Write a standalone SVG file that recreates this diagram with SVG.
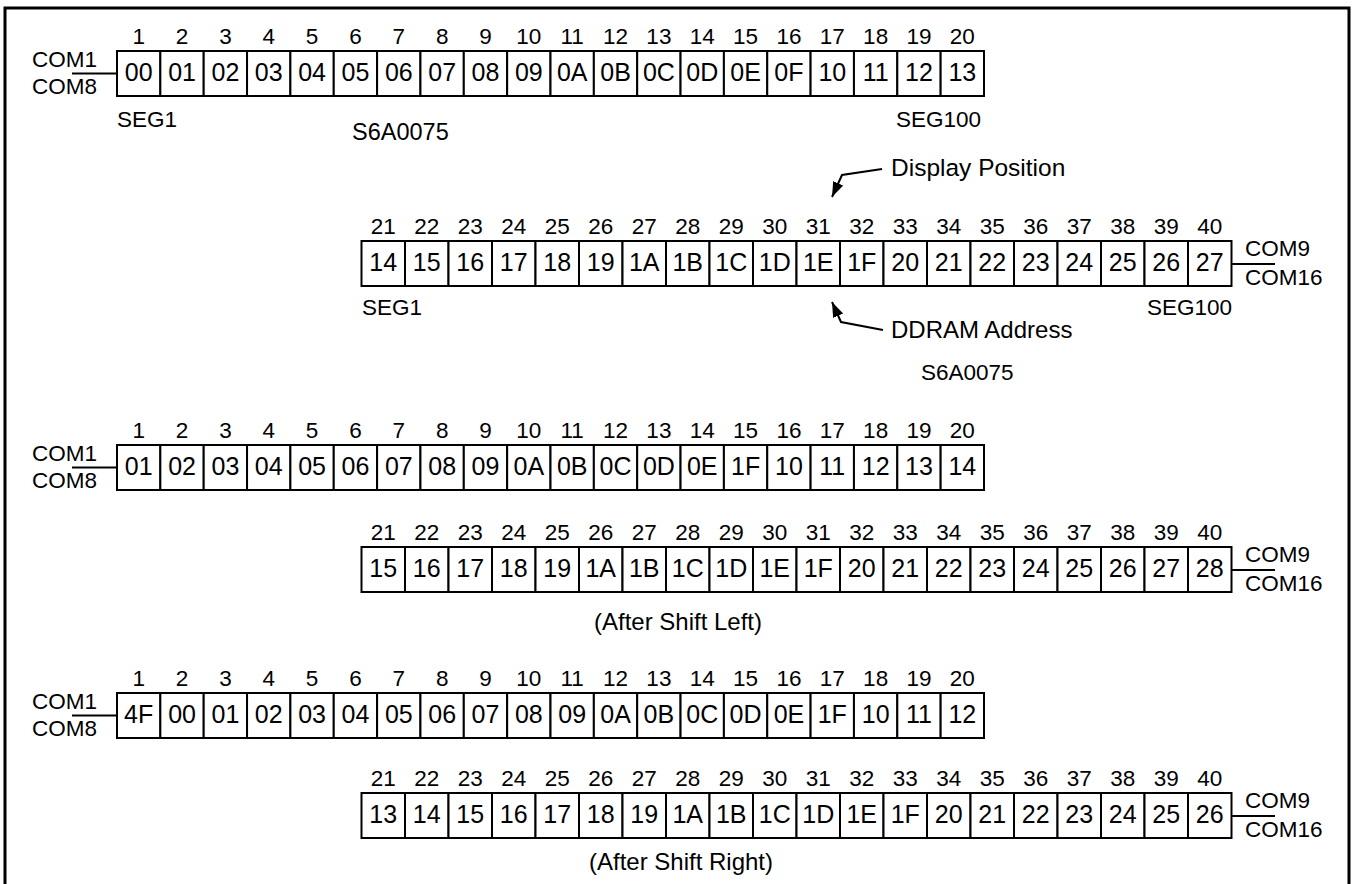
<svg xmlns="http://www.w3.org/2000/svg" width="1354" height="884" viewBox="0 0 1354 884">
<style>
text{font-family:"Liberation Sans",Arial,Helvetica,sans-serif;fill:#000}
.c{fill:#fff;stroke:#000;stroke-width:2}
.n{font-size:22.5px;text-anchor:middle}
.v{font-size:25px;text-anchor:middle}
.l{font-size:22.5px}
.b{font-size:24px}
.ln{stroke:#000;stroke-width:2;fill:none}
</style>
<defs>
<marker id="ah" markerUnits="userSpaceOnUse" markerWidth="16" markerHeight="12" refX="15" refY="5.5" orient="auto"><path d="M0,0 L15,5.5 L0,11 z" fill="#000"/></marker>
</defs>
<rect width="1354" height="884" fill="#fff"/>
<path d="M5,884 V8 H1349 V884" fill="none" stroke="#000" stroke-width="3"/>

<g id="row1">
<g id="r1c1" transform="translate(117,51)"><rect class="c" width="43.35" height="45"/><text class="n" x="21.7" y="-7">1</text><text class="v" x="21.7" y="30">00</text></g>
<g id="r1c2" transform="translate(160.35,51)"><rect class="c" width="43.35" height="45"/><text class="n" x="21.7" y="-7">2</text><text class="v" x="21.7" y="30">01</text></g>
<g id="r1c3" transform="translate(203.7,51)"><rect class="c" width="43.35" height="45"/><text class="n" x="21.7" y="-7">3</text><text class="v" x="21.7" y="30">02</text></g>
<g id="r1c4" transform="translate(247.05,51)"><rect class="c" width="43.35" height="45"/><text class="n" x="21.7" y="-7">4</text><text class="v" x="21.7" y="30">03</text></g>
<g id="r1c5" transform="translate(290.4,51)"><rect class="c" width="43.35" height="45"/><text class="n" x="21.7" y="-7">5</text><text class="v" x="21.7" y="30">04</text></g>
<g id="r1c6" transform="translate(333.75,51)"><rect class="c" width="43.35" height="45"/><text class="n" x="21.7" y="-7">6</text><text class="v" x="21.7" y="30">05</text></g>
<g id="r1c7" transform="translate(377.1,51)"><rect class="c" width="43.35" height="45"/><text class="n" x="21.7" y="-7">7</text><text class="v" x="21.7" y="30">06</text></g>
<g id="r1c8" transform="translate(420.45,51)"><rect class="c" width="43.35" height="45"/><text class="n" x="21.7" y="-7">8</text><text class="v" x="21.7" y="30">07</text></g>
<g id="r1c9" transform="translate(463.8,51)"><rect class="c" width="43.35" height="45"/><text class="n" x="21.7" y="-7">9</text><text class="v" x="21.7" y="30">08</text></g>
<g id="r1c10" transform="translate(507.15,51)"><rect class="c" width="43.35" height="45"/><text class="n" x="21.7" y="-7">10</text><text class="v" x="21.7" y="30">09</text></g>
<g id="r1c11" transform="translate(550.5,51)"><rect class="c" width="43.35" height="45"/><text class="n" x="21.7" y="-7">11</text><text class="v" x="21.7" y="30">0A</text></g>
<g id="r1c12" transform="translate(593.85,51)"><rect class="c" width="43.35" height="45"/><text class="n" x="21.7" y="-7">12</text><text class="v" x="21.7" y="30">0B</text></g>
<g id="r1c13" transform="translate(637.2,51)"><rect class="c" width="43.35" height="45"/><text class="n" x="21.7" y="-7">13</text><text class="v" x="21.7" y="30">0C</text></g>
<g id="r1c14" transform="translate(680.55,51)"><rect class="c" width="43.35" height="45"/><text class="n" x="21.7" y="-7">14</text><text class="v" x="21.7" y="30">0D</text></g>
<g id="r1c15" transform="translate(723.9,51)"><rect class="c" width="43.35" height="45"/><text class="n" x="21.7" y="-7">15</text><text class="v" x="21.7" y="30">0E</text></g>
<g id="r1c16" transform="translate(767.25,51)"><rect class="c" width="43.35" height="45"/><text class="n" x="21.7" y="-7">16</text><text class="v" x="21.7" y="30">0F</text></g>
<g id="r1c17" transform="translate(810.6,51)"><rect class="c" width="43.35" height="45"/><text class="n" x="21.7" y="-7">17</text><text class="v" x="21.7" y="30">10</text></g>
<g id="r1c18" transform="translate(853.95,51)"><rect class="c" width="43.35" height="45"/><text class="n" x="21.7" y="-7">18</text><text class="v" x="21.7" y="30">11</text></g>
<g id="r1c19" transform="translate(897.3,51)"><rect class="c" width="43.35" height="45"/><text class="n" x="21.7" y="-7">19</text><text class="v" x="21.7" y="30">12</text></g>
<g id="r1c20" transform="translate(940.65,51)"><rect class="c" width="43.35" height="45"/><text class="n" x="21.7" y="-7">20</text><text class="v" x="21.7" y="30">13</text></g>
</g>

<g id="row2">
<g id="r2c1" transform="translate(361.5,241)"><rect class="c" width="43.5" height="45"/><text class="n" x="21.75" y="-7">21</text><text class="v" x="21.75" y="30">14</text></g>
<g id="r2c2" transform="translate(405,241)"><rect class="c" width="43.5" height="45"/><text class="n" x="21.75" y="-7">22</text><text class="v" x="21.75" y="30">15</text></g>
<g id="r2c3" transform="translate(448.5,241)"><rect class="c" width="43.5" height="45"/><text class="n" x="21.75" y="-7">23</text><text class="v" x="21.75" y="30">16</text></g>
<g id="r2c4" transform="translate(492,241)"><rect class="c" width="43.5" height="45"/><text class="n" x="21.75" y="-7">24</text><text class="v" x="21.75" y="30">17</text></g>
<g id="r2c5" transform="translate(535.5,241)"><rect class="c" width="43.5" height="45"/><text class="n" x="21.75" y="-7">25</text><text class="v" x="21.75" y="30">18</text></g>
<g id="r2c6" transform="translate(579,241)"><rect class="c" width="43.5" height="45"/><text class="n" x="21.75" y="-7">26</text><text class="v" x="21.75" y="30">19</text></g>
<g id="r2c7" transform="translate(622.5,241)"><rect class="c" width="43.5" height="45"/><text class="n" x="21.75" y="-7">27</text><text class="v" x="21.75" y="30">1A</text></g>
<g id="r2c8" transform="translate(666,241)"><rect class="c" width="43.5" height="45"/><text class="n" x="21.75" y="-7">28</text><text class="v" x="21.75" y="30">1B</text></g>
<g id="r2c9" transform="translate(709.5,241)"><rect class="c" width="43.5" height="45"/><text class="n" x="21.75" y="-7">29</text><text class="v" x="21.75" y="30">1C</text></g>
<g id="r2c10" transform="translate(753,241)"><rect class="c" width="43.5" height="45"/><text class="n" x="21.75" y="-7">30</text><text class="v" x="21.75" y="30">1D</text></g>
<g id="r2c11" transform="translate(796.5,241)"><rect class="c" width="43.5" height="45"/><text class="n" x="21.75" y="-7">31</text><text class="v" x="21.75" y="30">1E</text></g>
<g id="r2c12" transform="translate(840,241)"><rect class="c" width="43.5" height="45"/><text class="n" x="21.75" y="-7">32</text><text class="v" x="21.75" y="30">1F</text></g>
<g id="r2c13" transform="translate(883.5,241)"><rect class="c" width="43.5" height="45"/><text class="n" x="21.75" y="-7">33</text><text class="v" x="21.75" y="30">20</text></g>
<g id="r2c14" transform="translate(927,241)"><rect class="c" width="43.5" height="45"/><text class="n" x="21.75" y="-7">34</text><text class="v" x="21.75" y="30">21</text></g>
<g id="r2c15" transform="translate(970.5,241)"><rect class="c" width="43.5" height="45"/><text class="n" x="21.75" y="-7">35</text><text class="v" x="21.75" y="30">22</text></g>
<g id="r2c16" transform="translate(1014,241)"><rect class="c" width="43.5" height="45"/><text class="n" x="21.75" y="-7">36</text><text class="v" x="21.75" y="30">23</text></g>
<g id="r2c17" transform="translate(1057.5,241)"><rect class="c" width="43.5" height="45"/><text class="n" x="21.75" y="-7">37</text><text class="v" x="21.75" y="30">24</text></g>
<g id="r2c18" transform="translate(1101,241)"><rect class="c" width="43.5" height="45"/><text class="n" x="21.75" y="-7">38</text><text class="v" x="21.75" y="30">25</text></g>
<g id="r2c19" transform="translate(1144.5,241)"><rect class="c" width="43.5" height="45"/><text class="n" x="21.75" y="-7">39</text><text class="v" x="21.75" y="30">26</text></g>
<g id="r2c20" transform="translate(1188,241)"><rect class="c" width="43.5" height="45"/><text class="n" x="21.75" y="-7">40</text><text class="v" x="21.75" y="30">27</text></g>
</g>

<g id="row3">
<g id="r3c1" transform="translate(117,445)"><rect class="c" width="43.35" height="45"/><text class="n" x="21.7" y="-7">1</text><text class="v" x="21.7" y="30">01</text></g>
<g id="r3c2" transform="translate(160.35,445)"><rect class="c" width="43.35" height="45"/><text class="n" x="21.7" y="-7">2</text><text class="v" x="21.7" y="30">02</text></g>
<g id="r3c3" transform="translate(203.7,445)"><rect class="c" width="43.35" height="45"/><text class="n" x="21.7" y="-7">3</text><text class="v" x="21.7" y="30">03</text></g>
<g id="r3c4" transform="translate(247.05,445)"><rect class="c" width="43.35" height="45"/><text class="n" x="21.7" y="-7">4</text><text class="v" x="21.7" y="30">04</text></g>
<g id="r3c5" transform="translate(290.4,445)"><rect class="c" width="43.35" height="45"/><text class="n" x="21.7" y="-7">5</text><text class="v" x="21.7" y="30">05</text></g>
<g id="r3c6" transform="translate(333.75,445)"><rect class="c" width="43.35" height="45"/><text class="n" x="21.7" y="-7">6</text><text class="v" x="21.7" y="30">06</text></g>
<g id="r3c7" transform="translate(377.1,445)"><rect class="c" width="43.35" height="45"/><text class="n" x="21.7" y="-7">7</text><text class="v" x="21.7" y="30">07</text></g>
<g id="r3c8" transform="translate(420.45,445)"><rect class="c" width="43.35" height="45"/><text class="n" x="21.7" y="-7">8</text><text class="v" x="21.7" y="30">08</text></g>
<g id="r3c9" transform="translate(463.8,445)"><rect class="c" width="43.35" height="45"/><text class="n" x="21.7" y="-7">9</text><text class="v" x="21.7" y="30">09</text></g>
<g id="r3c10" transform="translate(507.15,445)"><rect class="c" width="43.35" height="45"/><text class="n" x="21.7" y="-7">10</text><text class="v" x="21.7" y="30">0A</text></g>
<g id="r3c11" transform="translate(550.5,445)"><rect class="c" width="43.35" height="45"/><text class="n" x="21.7" y="-7">11</text><text class="v" x="21.7" y="30">0B</text></g>
<g id="r3c12" transform="translate(593.85,445)"><rect class="c" width="43.35" height="45"/><text class="n" x="21.7" y="-7">12</text><text class="v" x="21.7" y="30">0C</text></g>
<g id="r3c13" transform="translate(637.2,445)"><rect class="c" width="43.35" height="45"/><text class="n" x="21.7" y="-7">13</text><text class="v" x="21.7" y="30">0D</text></g>
<g id="r3c14" transform="translate(680.55,445)"><rect class="c" width="43.35" height="45"/><text class="n" x="21.7" y="-7">14</text><text class="v" x="21.7" y="30">0E</text></g>
<g id="r3c15" transform="translate(723.9,445)"><rect class="c" width="43.35" height="45"/><text class="n" x="21.7" y="-7">15</text><text class="v" x="21.7" y="30">1F</text></g>
<g id="r3c16" transform="translate(767.25,445)"><rect class="c" width="43.35" height="45"/><text class="n" x="21.7" y="-7">16</text><text class="v" x="21.7" y="30">10</text></g>
<g id="r3c17" transform="translate(810.6,445)"><rect class="c" width="43.35" height="45"/><text class="n" x="21.7" y="-7">17</text><text class="v" x="21.7" y="30">11</text></g>
<g id="r3c18" transform="translate(853.95,445)"><rect class="c" width="43.35" height="45"/><text class="n" x="21.7" y="-7">18</text><text class="v" x="21.7" y="30">12</text></g>
<g id="r3c19" transform="translate(897.3,445)"><rect class="c" width="43.35" height="45"/><text class="n" x="21.7" y="-7">19</text><text class="v" x="21.7" y="30">13</text></g>
<g id="r3c20" transform="translate(940.65,445)"><rect class="c" width="43.35" height="45"/><text class="n" x="21.7" y="-7">20</text><text class="v" x="21.7" y="30">14</text></g>
</g>

<g id="row4">
<g id="r4c1" transform="translate(361.5,547)"><rect class="c" width="43.5" height="45"/><text class="n" x="21.75" y="-7">21</text><text class="v" x="21.75" y="30">15</text></g>
<g id="r4c2" transform="translate(405,547)"><rect class="c" width="43.5" height="45"/><text class="n" x="21.75" y="-7">22</text><text class="v" x="21.75" y="30">16</text></g>
<g id="r4c3" transform="translate(448.5,547)"><rect class="c" width="43.5" height="45"/><text class="n" x="21.75" y="-7">23</text><text class="v" x="21.75" y="30">17</text></g>
<g id="r4c4" transform="translate(492,547)"><rect class="c" width="43.5" height="45"/><text class="n" x="21.75" y="-7">24</text><text class="v" x="21.75" y="30">18</text></g>
<g id="r4c5" transform="translate(535.5,547)"><rect class="c" width="43.5" height="45"/><text class="n" x="21.75" y="-7">25</text><text class="v" x="21.75" y="30">19</text></g>
<g id="r4c6" transform="translate(579,547)"><rect class="c" width="43.5" height="45"/><text class="n" x="21.75" y="-7">26</text><text class="v" x="21.75" y="30">1A</text></g>
<g id="r4c7" transform="translate(622.5,547)"><rect class="c" width="43.5" height="45"/><text class="n" x="21.75" y="-7">27</text><text class="v" x="21.75" y="30">1B</text></g>
<g id="r4c8" transform="translate(666,547)"><rect class="c" width="43.5" height="45"/><text class="n" x="21.75" y="-7">28</text><text class="v" x="21.75" y="30">1C</text></g>
<g id="r4c9" transform="translate(709.5,547)"><rect class="c" width="43.5" height="45"/><text class="n" x="21.75" y="-7">29</text><text class="v" x="21.75" y="30">1D</text></g>
<g id="r4c10" transform="translate(753,547)"><rect class="c" width="43.5" height="45"/><text class="n" x="21.75" y="-7">30</text><text class="v" x="21.75" y="30">1E</text></g>
<g id="r4c11" transform="translate(796.5,547)"><rect class="c" width="43.5" height="45"/><text class="n" x="21.75" y="-7">31</text><text class="v" x="21.75" y="30">1F</text></g>
<g id="r4c12" transform="translate(840,547)"><rect class="c" width="43.5" height="45"/><text class="n" x="21.75" y="-7">32</text><text class="v" x="21.75" y="30">20</text></g>
<g id="r4c13" transform="translate(883.5,547)"><rect class="c" width="43.5" height="45"/><text class="n" x="21.75" y="-7">33</text><text class="v" x="21.75" y="30">21</text></g>
<g id="r4c14" transform="translate(927,547)"><rect class="c" width="43.5" height="45"/><text class="n" x="21.75" y="-7">34</text><text class="v" x="21.75" y="30">22</text></g>
<g id="r4c15" transform="translate(970.5,547)"><rect class="c" width="43.5" height="45"/><text class="n" x="21.75" y="-7">35</text><text class="v" x="21.75" y="30">23</text></g>
<g id="r4c16" transform="translate(1014,547)"><rect class="c" width="43.5" height="45"/><text class="n" x="21.75" y="-7">36</text><text class="v" x="21.75" y="30">24</text></g>
<g id="r4c17" transform="translate(1057.5,547)"><rect class="c" width="43.5" height="45"/><text class="n" x="21.75" y="-7">37</text><text class="v" x="21.75" y="30">25</text></g>
<g id="r4c18" transform="translate(1101,547)"><rect class="c" width="43.5" height="45"/><text class="n" x="21.75" y="-7">38</text><text class="v" x="21.75" y="30">26</text></g>
<g id="r4c19" transform="translate(1144.5,547)"><rect class="c" width="43.5" height="45"/><text class="n" x="21.75" y="-7">39</text><text class="v" x="21.75" y="30">27</text></g>
<g id="r4c20" transform="translate(1188,547)"><rect class="c" width="43.5" height="45"/><text class="n" x="21.75" y="-7">40</text><text class="v" x="21.75" y="30">28</text></g>
</g>

<g id="row5">
<g id="r5c1" transform="translate(117,693)"><rect class="c" width="43.35" height="45"/><text class="n" x="21.7" y="-7">1</text><text class="v" x="21.7" y="30">4F</text></g>
<g id="r5c2" transform="translate(160.35,693)"><rect class="c" width="43.35" height="45"/><text class="n" x="21.7" y="-7">2</text><text class="v" x="21.7" y="30">00</text></g>
<g id="r5c3" transform="translate(203.7,693)"><rect class="c" width="43.35" height="45"/><text class="n" x="21.7" y="-7">3</text><text class="v" x="21.7" y="30">01</text></g>
<g id="r5c4" transform="translate(247.05,693)"><rect class="c" width="43.35" height="45"/><text class="n" x="21.7" y="-7">4</text><text class="v" x="21.7" y="30">02</text></g>
<g id="r5c5" transform="translate(290.4,693)"><rect class="c" width="43.35" height="45"/><text class="n" x="21.7" y="-7">5</text><text class="v" x="21.7" y="30">03</text></g>
<g id="r5c6" transform="translate(333.75,693)"><rect class="c" width="43.35" height="45"/><text class="n" x="21.7" y="-7">6</text><text class="v" x="21.7" y="30">04</text></g>
<g id="r5c7" transform="translate(377.1,693)"><rect class="c" width="43.35" height="45"/><text class="n" x="21.7" y="-7">7</text><text class="v" x="21.7" y="30">05</text></g>
<g id="r5c8" transform="translate(420.45,693)"><rect class="c" width="43.35" height="45"/><text class="n" x="21.7" y="-7">8</text><text class="v" x="21.7" y="30">06</text></g>
<g id="r5c9" transform="translate(463.8,693)"><rect class="c" width="43.35" height="45"/><text class="n" x="21.7" y="-7">9</text><text class="v" x="21.7" y="30">07</text></g>
<g id="r5c10" transform="translate(507.15,693)"><rect class="c" width="43.35" height="45"/><text class="n" x="21.7" y="-7">10</text><text class="v" x="21.7" y="30">08</text></g>
<g id="r5c11" transform="translate(550.5,693)"><rect class="c" width="43.35" height="45"/><text class="n" x="21.7" y="-7">11</text><text class="v" x="21.7" y="30">09</text></g>
<g id="r5c12" transform="translate(593.85,693)"><rect class="c" width="43.35" height="45"/><text class="n" x="21.7" y="-7">12</text><text class="v" x="21.7" y="30">0A</text></g>
<g id="r5c13" transform="translate(637.2,693)"><rect class="c" width="43.35" height="45"/><text class="n" x="21.7" y="-7">13</text><text class="v" x="21.7" y="30">0B</text></g>
<g id="r5c14" transform="translate(680.55,693)"><rect class="c" width="43.35" height="45"/><text class="n" x="21.7" y="-7">14</text><text class="v" x="21.7" y="30">0C</text></g>
<g id="r5c15" transform="translate(723.9,693)"><rect class="c" width="43.35" height="45"/><text class="n" x="21.7" y="-7">15</text><text class="v" x="21.7" y="30">0D</text></g>
<g id="r5c16" transform="translate(767.25,693)"><rect class="c" width="43.35" height="45"/><text class="n" x="21.7" y="-7">16</text><text class="v" x="21.7" y="30">0E</text></g>
<g id="r5c17" transform="translate(810.6,693)"><rect class="c" width="43.35" height="45"/><text class="n" x="21.7" y="-7">17</text><text class="v" x="21.7" y="30">1F</text></g>
<g id="r5c18" transform="translate(853.95,693)"><rect class="c" width="43.35" height="45"/><text class="n" x="21.7" y="-7">18</text><text class="v" x="21.7" y="30">10</text></g>
<g id="r5c19" transform="translate(897.3,693)"><rect class="c" width="43.35" height="45"/><text class="n" x="21.7" y="-7">19</text><text class="v" x="21.7" y="30">11</text></g>
<g id="r5c20" transform="translate(940.65,693)"><rect class="c" width="43.35" height="45"/><text class="n" x="21.7" y="-7">20</text><text class="v" x="21.7" y="30">12</text></g>
</g>

<g id="row6">
<g id="r6c1" transform="translate(361.5,793)"><rect class="c" width="43.5" height="45"/><text class="n" x="21.75" y="-7">21</text><text class="v" x="21.75" y="30">13</text></g>
<g id="r6c2" transform="translate(405,793)"><rect class="c" width="43.5" height="45"/><text class="n" x="21.75" y="-7">22</text><text class="v" x="21.75" y="30">14</text></g>
<g id="r6c3" transform="translate(448.5,793)"><rect class="c" width="43.5" height="45"/><text class="n" x="21.75" y="-7">23</text><text class="v" x="21.75" y="30">15</text></g>
<g id="r6c4" transform="translate(492,793)"><rect class="c" width="43.5" height="45"/><text class="n" x="21.75" y="-7">24</text><text class="v" x="21.75" y="30">16</text></g>
<g id="r6c5" transform="translate(535.5,793)"><rect class="c" width="43.5" height="45"/><text class="n" x="21.75" y="-7">25</text><text class="v" x="21.75" y="30">17</text></g>
<g id="r6c6" transform="translate(579,793)"><rect class="c" width="43.5" height="45"/><text class="n" x="21.75" y="-7">26</text><text class="v" x="21.75" y="30">18</text></g>
<g id="r6c7" transform="translate(622.5,793)"><rect class="c" width="43.5" height="45"/><text class="n" x="21.75" y="-7">27</text><text class="v" x="21.75" y="30">19</text></g>
<g id="r6c8" transform="translate(666,793)"><rect class="c" width="43.5" height="45"/><text class="n" x="21.75" y="-7">28</text><text class="v" x="21.75" y="30">1A</text></g>
<g id="r6c9" transform="translate(709.5,793)"><rect class="c" width="43.5" height="45"/><text class="n" x="21.75" y="-7">29</text><text class="v" x="21.75" y="30">1B</text></g>
<g id="r6c10" transform="translate(753,793)"><rect class="c" width="43.5" height="45"/><text class="n" x="21.75" y="-7">30</text><text class="v" x="21.75" y="30">1C</text></g>
<g id="r6c11" transform="translate(796.5,793)"><rect class="c" width="43.5" height="45"/><text class="n" x="21.75" y="-7">31</text><text class="v" x="21.75" y="30">1D</text></g>
<g id="r6c12" transform="translate(840,793)"><rect class="c" width="43.5" height="45"/><text class="n" x="21.75" y="-7">32</text><text class="v" x="21.75" y="30">1E</text></g>
<g id="r6c13" transform="translate(883.5,793)"><rect class="c" width="43.5" height="45"/><text class="n" x="21.75" y="-7">33</text><text class="v" x="21.75" y="30">1F</text></g>
<g id="r6c14" transform="translate(927,793)"><rect class="c" width="43.5" height="45"/><text class="n" x="21.75" y="-7">34</text><text class="v" x="21.75" y="30">20</text></g>
<g id="r6c15" transform="translate(970.5,793)"><rect class="c" width="43.5" height="45"/><text class="n" x="21.75" y="-7">35</text><text class="v" x="21.75" y="30">21</text></g>
<g id="r6c16" transform="translate(1014,793)"><rect class="c" width="43.5" height="45"/><text class="n" x="21.75" y="-7">36</text><text class="v" x="21.75" y="30">22</text></g>
<g id="r6c17" transform="translate(1057.5,793)"><rect class="c" width="43.5" height="45"/><text class="n" x="21.75" y="-7">37</text><text class="v" x="21.75" y="30">23</text></g>
<g id="r6c18" transform="translate(1101,793)"><rect class="c" width="43.5" height="45"/><text class="n" x="21.75" y="-7">38</text><text class="v" x="21.75" y="30">24</text></g>
<g id="r6c19" transform="translate(1144.5,793)"><rect class="c" width="43.5" height="45"/><text class="n" x="21.75" y="-7">39</text><text class="v" x="21.75" y="30">25</text></g>
<g id="r6c20" transform="translate(1188,793)"><rect class="c" width="43.5" height="45"/><text class="n" x="21.75" y="-7">40</text><text class="v" x="21.75" y="30">26</text></g>
</g>

<g id="labels">
<text class="l" x="32" y="66.5">COM1</text><text class="l" x="32" y="94">COM8</text>
<text class="l" x="32" y="460.5">COM1</text><text class="l" x="32" y="488">COM8</text>
<text class="l" x="32" y="708.5">COM1</text><text class="l" x="32" y="736">COM8</text>
<text class="l" x="1245" y="256">COM9</text><text class="l" x="1245" y="285">COM16</text>
<text class="l" x="1245" y="562">COM9</text><text class="l" x="1245" y="591">COM16</text>
<text class="l" x="1245" y="808">COM9</text><text class="l" x="1245" y="837">COM16</text>
<text class="l" x="117" y="127">SEG1</text>
<text class="l" x="352" y="140" style="font-size:23.5px">S6A0075</text>
<text class="l" x="981" y="127" text-anchor="end">SEG100</text>
<text class="b" x="891" y="176" style="font-size:24.5px">Display Position</text>
<text class="l" x="362" y="315">SEG1</text>
<text class="l" x="1232" y="315" text-anchor="end">SEG100</text>
<text class="b" x="891" y="338">DDRAM Address</text>
<text class="l" x="921" y="380">S6A0075</text>
<text class="b" x="678" y="630" text-anchor="middle">(After Shift Left)</text>
<text class="b" x="681" y="870" text-anchor="middle">(After Shift Right)</text>
</g>

<g id="connectors">
<line class="ln" x1="72" y1="73.5" x2="117" y2="73.5"/>
<line class="ln" x1="72" y1="467.5" x2="117" y2="467.5"/>
<line class="ln" x1="72" y1="715.5" x2="117" y2="715.5"/>
<line class="ln" x1="1231.5" y1="264" x2="1275" y2="264"/>
<line class="ln" x1="1231.5" y1="570" x2="1275" y2="570"/>
<line class="ln" x1="1231.5" y1="816" x2="1275" y2="816"/>
<polyline class="ln" points="882,169 842,175 832,197" marker-end="url(#ah)"/>
<polyline class="ln" points="883,330 841,322 832,302" marker-end="url(#ah)"/>
</g>
</svg>
